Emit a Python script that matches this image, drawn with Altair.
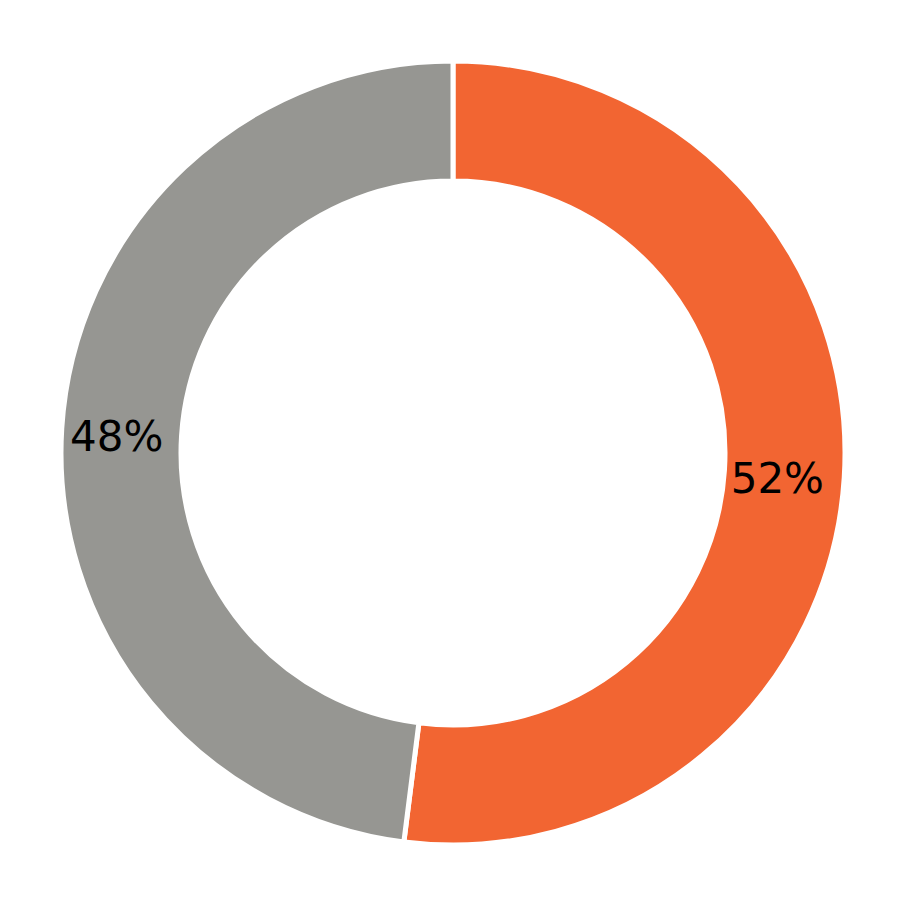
import altair as alt
import pandas as pd

categories = ["A", "B"]
values = [52, 48]
labels = ["52%", "48%"]
colors = ["#F26532", "#969692"]
order = [0, 1]

df = pd.DataFrame({"cat": categories, "value": values, "label": labels, "ord": order})

base = alt.Chart(df).encode(
    theta=alt.Theta("value:Q", stack=True),
    order=alt.Order("ord:Q"),
)

arcs = base.mark_arc(outerRadius=392, innerRadius=272, stroke="white", strokeWidth=5).encode(
    color=alt.Color("cat:N", scale=alt.Scale(domain=categories, range=colors), legend=None)
)

text = base.mark_text(radius=331, fontSize=42, font="DejaVu Sans", color="black", dy=6, dx=-6).encode(
    text="label:N"
)

chart = (arcs + text).properties(
    width=890, height=890,
    autosize=alt.AutoSizeParams(type="fit", contains="padding"),
    padding=0,
).configure_view(stroke=None)

chart.save("out.html", embed_options={"renderer": "svg", "actions": False})
